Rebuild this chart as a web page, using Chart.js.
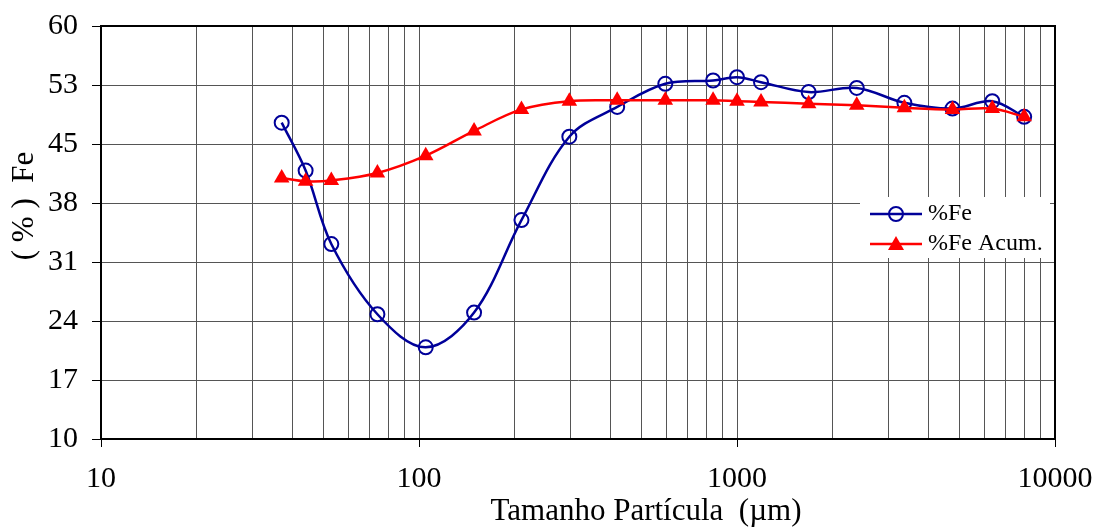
<!DOCTYPE html>
<html>
<head>
<meta charset="utf-8">
<script src="https://cdn.jsdelivr.net/npm/chart.js@4"></script>
<style>
  html, body { margin:0; padding:0; background:#fff; }
  #wrap { width:1093px; height:527px; }
</style>
</head>
<body>
<div id="wrap"><canvas id="chartFe" width="1093" height="527"></canvas></div>
<script>
// tamanho de partícula (µm) - série Tyler
const tamanhos = [37, 44, 53, 74, 105, 149, 210, 297, 420, 595, 841, 1000, 1190, 1680, 2380, 3360, 4760, 6350, 8000];
// teor de Fe por fração
const teorFe = [48.3, 42.5, 33.6, 25.1, 21.1, 25.3, 36.5, 46.6, 50.2, 53.0, 53.4, 53.8, 53.2, 52.0, 52.5, 50.7, 50.0, 50.9, 49.0];
// teor de Fe acumulado
const teorFeAcum = [41.6, 41.2, 41.3, 42.2, 44.3, 47.3, 49.9, 50.9, 51.0, 51.0, 51.0, 50.9, 50.8, 50.6, 50.4, 50.1, 49.9, 50.0, 49.0];

const xMajor = [10, 100, 1000, 10000];
const yLabels = ['10', '17', '24', '31', '38', '45', '53', '60'];

const serif = '"Liberation Serif", "Times New Roman", serif';
const AZUL = '#000099';
const VERM = '#FF0000';

// linhas de grade em 1..9 x 10^n
const xGrid = [];
xMajor.forEach((m, i) => {
  if (i === xMajor.length - 1) { xGrid.push(m); return; }
  for (let k = 1; k <= 9; k++) xGrid.push(m * k);
});

const moldura = {
  id: 'moldura',
  afterDraw(chart) {
    const { ctx, chartArea: a } = chart;
    ctx.save();
    ctx.strokeStyle = '#000';
    ctx.lineWidth = 2;
    ctx.strokeRect(a.left, a.top, a.right - a.left, a.bottom - a.top);

    // legenda
    const lx = a.right - 195, ly = a.top + 171;
    ctx.fillStyle = '#fff';
    ctx.fillRect(lx, ly, 190, 61);
    ctx.lineWidth = 2.5;
    // %Fe
    let y = ly + 17;
    ctx.strokeStyle = AZUL;
    ctx.beginPath(); ctx.moveTo(lx + 10, y); ctx.lineTo(lx + 62, y); ctx.stroke();
    ctx.lineWidth = 2;
    ctx.beginPath(); ctx.arc(lx + 36, y, 7, 0, Math.PI * 2); ctx.stroke();
    // %Fe Acum.
    y = ly + 47;
    ctx.strokeStyle = VERM; ctx.fillStyle = VERM; ctx.lineWidth = 2.5;
    ctx.beginPath(); ctx.moveTo(lx + 10, y); ctx.lineTo(lx + 62, y); ctx.stroke();
    ctx.beginPath();
    ctx.moveTo(lx + 36, y - 8); ctx.lineTo(lx + 44, y + 6); ctx.lineTo(lx + 28, y + 6);
    ctx.closePath(); ctx.fill();
    ctx.fillStyle = '#000';
    ctx.font = '24px ' + serif;
    ctx.textBaseline = 'middle';
    ctx.textAlign = 'left';
    ctx.fillText('%Fe', lx + 68, ly + 17);
    ctx.fillText('%Fe Acum.', lx + 68, ly + 47);

    // títulos dos eixos
    ctx.font = '31px ' + serif;
    ctx.textAlign = 'center';
    ctx.textBaseline = 'alphabetic';
    ctx.fillText('Tamanho Partícula  (µm)', 646, 520);
    ctx.translate(33, 206);
    ctx.rotate(-Math.PI / 2);
    ctx.fillText('( % )  Fe', 0, 0);
    ctx.restore();
  }
};

new Chart(document.getElementById('chartFe'), {
  type: 'line',
  data: {
    datasets: [
      {
        label: '%Fe',
        data: tamanhos.map((t, i) => ({ x: t, y: teorFe[i] })),
        borderColor: AZUL, borderWidth: 2.5,
        pointStyle: 'circle', pointRadius: 7, pointBorderWidth: 2,
        pointBorderColor: AZUL, pointBackgroundColor: 'rgba(0,0,0,0)',
        tension: 0.35, order: 1
      },
      {
        label: '%Fe Acum.',
        data: tamanhos.map((t, i) => ({ x: t, y: teorFeAcum[i] })),
        borderColor: VERM, borderWidth: 2.5,
        pointStyle: 'triangle', pointRadius: 9, pointBorderWidth: 0,
        pointBorderColor: VERM, pointBackgroundColor: VERM,
        tension: 0.35, order: 0
      }
    ]
  },
  options: {
    responsive: false,
    animation: false,
    devicePixelRatio: 1,
    layout: { padding: { top: 26, right: 38, left: 0, bottom: 0 } },
    plugins: { legend: { display: false }, tooltip: { enabled: false } },
    scales: {
      x: {
        type: 'logarithmic', min: 10, max: 10000,
        afterBuildTicks: s => { s.ticks = xGrid.map(v => ({ value: v, major: xMajor.includes(v) })); },
        afterFit: s => { s.height = 88; s.paddingLeft = 0; s.paddingRight = 0; },
        ticks: {
          autoSkip: false, maxRotation: 0, minRotation: 0, padding: 14,
          color: '#000', font: { family: serif, size: 30 },
          callback: v => xMajor.includes(v) ? String(v) : ''
        },
        grid: {
          color: '#555', lineWidth: 1, tickLength: 8,
          tickColor: c => (c.tick && xMajor.includes(c.tick.value)) ? '#000' : 'rgba(0,0,0,0)'
        },
        border: { color: '#000', width: 2 }
      },
      y: {
        min: 10, max: 60,
        afterBuildTicks: s => { s.ticks = yLabels.map((l, i) => ({ value: 10 + i * 50 / 7 })); },
        afterFit: s => { s.width = 101; s.paddingTop = 0; s.paddingBottom = 0; },
        ticks: {
          padding: 14, color: '#000', font: { family: serif, size: 30 },
          callback: (v, i) => yLabels[i]
        },
        grid: { color: '#555', lineWidth: 1, tickLength: 9, tickColor: '#000' },
        border: { color: '#000', width: 2 }
      }
    }
  },
  plugins: [moldura]
});
</script>
</body>
</html>
